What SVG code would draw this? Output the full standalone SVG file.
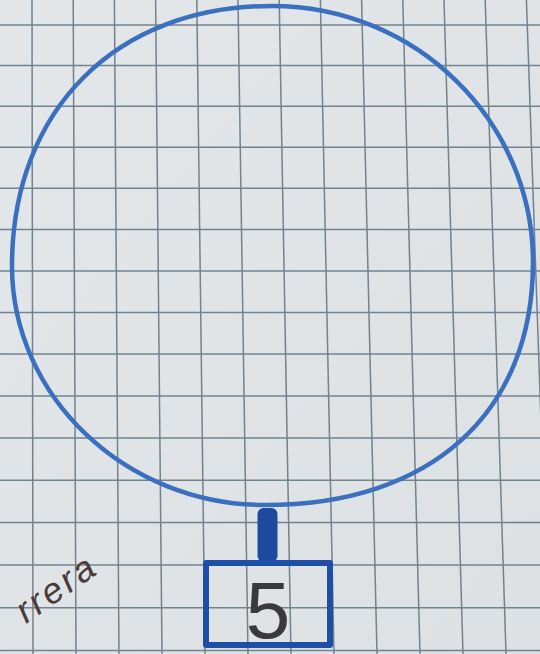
<svg xmlns="http://www.w3.org/2000/svg" width="540" height="654" viewBox="0 0 540 654">
  <defs>
    <linearGradient id="paper" x1="0" y1="0" x2="1" y2="1">
      <stop offset="0" stop-color="#e4e7ea"/>
      <stop offset="1" stop-color="#dde1e4"/>
    </linearGradient>
    <style>
      .grid line { stroke: #70838f; stroke-width: 1.5; }
      .ink { fill: none; stroke: #3b6fbf; stroke-width: 4.5; stroke-linecap: round; }
      .box { fill: none; stroke: #1f4ea6; stroke-width: 6; stroke-linejoin: round; }
      .num { font-family: "Liberation Sans", Arial, sans-serif; font-size: 80px; fill: #3a3a3c; }
      .hand { font-family: "Liberation Sans", Arial, sans-serif; font-style: italic; font-size: 36px; fill: #4a3a3a; letter-spacing: 3px; }
    </style>
  </defs>
  <rect width="540" height="654" fill="url(#paper)"/>
  <g id="grid" class="grid">
    <line x1="32" y1="0" x2="33" y2="654"/>
    <line x1="73.2" y1="0" x2="76" y2="654"/>
    <line x1="114.4" y1="0" x2="119" y2="654"/>
    <line x1="155.6" y1="0" x2="162" y2="654"/>
    <line x1="196.8" y1="0" x2="205" y2="654"/>
    <line x1="238" y1="0" x2="248" y2="654"/>
    <line x1="279.2" y1="0" x2="291" y2="654"/>
    <line x1="320.4" y1="0" x2="334" y2="654"/>
    <line x1="361.6" y1="0" x2="377" y2="654"/>
    <line x1="402.8" y1="0" x2="420" y2="654"/>
    <line x1="444" y1="0" x2="463" y2="654"/>
    <line x1="485.2" y1="0" x2="506" y2="654"/>
    <line x1="526.4" y1="0" x2="549" y2="654"/>
    <line x1="0" y1="25" x2="540" y2="25"/>
    <line x1="0" y1="65.6" x2="540" y2="65.6"/>
    <line x1="0" y1="106.3" x2="540" y2="106.3"/>
    <line x1="0" y1="147.2" x2="540" y2="147.2"/>
    <line x1="0" y1="188.3" x2="540" y2="188.3"/>
    <line x1="0" y1="229.5" x2="540" y2="229.5"/>
    <line x1="0" y1="270.9" x2="540" y2="270.9"/>
    <line x1="0" y1="312.4" x2="540" y2="312.4"/>
    <line x1="0" y1="354.1" x2="540" y2="354.1"/>
    <line x1="0" y1="396" x2="540" y2="396"/>
    <line x1="0" y1="438" x2="540" y2="438"/>
    <line x1="0" y1="480.2" x2="540" y2="480.2"/>
    <line x1="0" y1="522.5" x2="540" y2="522.5"/>
    <line x1="0" y1="565" x2="540" y2="565"/>
    <line x1="0" y1="607.7" x2="540" y2="607.7"/>
    <line x1="0" y1="650.5" x2="540" y2="650.5"/>
  </g>
  <g id="circle">
    <path class="ink" d="M 272 6 C 416 6 533 121 533 262 C 533 413 431 505 265 505 C 126 505 12 397 12 266 C 12 110 116 6 272 6 Z"/>
  </g>
  <g id="connectors">
    <rect x="257.5" y="508" width="20" height="54" rx="6" fill="#1d4a9f"/>
  </g>
  <g id="box5">
    <rect class="box" x="206" y="563" width="124" height="82"/>
    <text class="num" x="268" y="638" text-anchor="middle">5</text>
  </g>
  <g id="label">
    <text class="hand" transform="translate(26 624) rotate(-35)">rrera</text>
  </g>
</svg>
